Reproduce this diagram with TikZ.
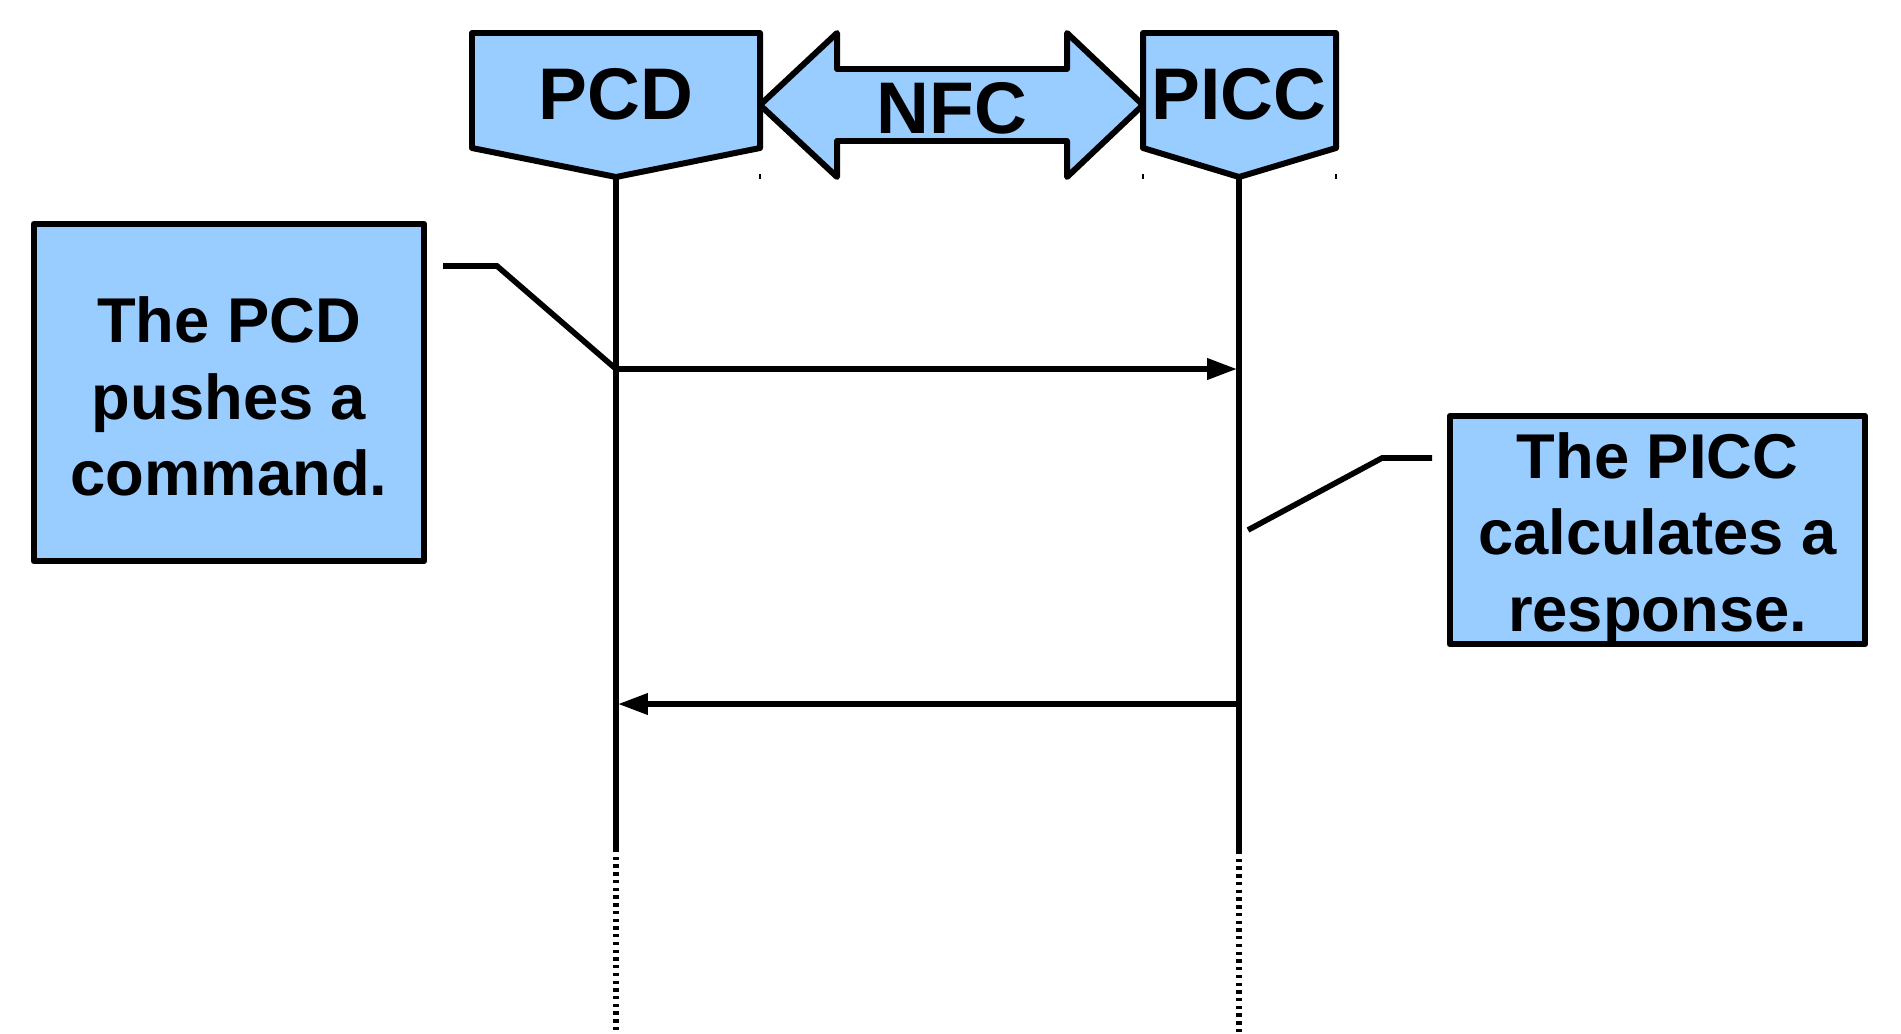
\documentclass[tikz,border=0pt]{standalone}
\usepackage{fontspec}
\setmainfont{Liberation Sans}
\usetikzlibrary{arrows.meta}
\definecolor{nfcblue}{HTML}{99CCFF}

\begin{document}
\begin{tikzpicture}[x=0.01cm,y=-0.01cm]
\tikzset{
    head/.style={draw, line width=1.7pt, fill=nfcblue, line join=round},
    head text/.style={font=\bfseries\fontsize{20.8}{24}\selectfont, inner sep=0pt},
    life line/.style={line width=1.6pt},
    dots line/.style={line width=1.6pt, dash pattern=on 0.95pt off 1.25pt},
    msg/.style={line width=1.6pt, -{Triangle[length=8.5pt,width=5.8pt]}},
    note/.style={draw, line width=1.8pt, fill=nfcblue, inner sep=0pt, line join=round},
    note text/.style={inner sep=0pt, align=center,
        font=\bfseries\fontsize{18}{21.7}\selectfont},
    note line/.style={line width=1.6pt}}
\def\ytop{33}
\def\yside{148}
\def\ytip{177}
\def\ysolid{849}

\useasboundingbox (0,0) rectangle (1901,1033);

% headers
\draw[head] (472,\ytop)--(760,\ytop)--(760,\yside)--(616,\ytip)--(472,\yside)--cycle;
\draw[head] (1143,\ytop)--(1336,\ytop)--(1336,\yside)--(1239,\ytip)--(1143,\yside)--cycle;
\draw[head] (760,105)--(837,\ytop)--(837,69)--(1067,69)--(1067,\ytop)--(1143,105)
    --(1067,\ytip)--(1067,141)--(837,141)--(837,\ytip)--cycle;
\node[head text] (pcd) at (616,94) {PCD};
\node[head text] (picc) at (1239,94) {PICC};
\node[head text] (nfc) at (952,108) {NFC};

\foreach \x in {760,1143,1336}{
    \draw[line width=0.5pt] (\x,174)--(\x,179);
}

% life lines
\path (616,\ytip)coordinate(PT) (616,\ysolid)coordinate(PM) (616,1033)coordinate(PB);
\path (1239,\ytip)coordinate(QT) (1239,851)coordinate(QM) (1239,1033)coordinate(QB);
\draw[life line] (PT)--(PM);
\draw[dots line] (PM)--(PB);
\draw[life line] (QT)--(QM);
\draw[dots line] (QM)--(QB);

% messages
\path (616,369)coordinate(CMD) (1237,369)coordinate(CMDIN);
\path (1239,704)coordinate(RSP) (618,704)coordinate(RSPIN);
\draw[msg] (CMD)--(CMDIN);
\draw[msg] (RSP)--(RSPIN);

% notes
\node[note, minimum width=3.9cm, minimum height=3.37cm] (push) at (229,392.5) {};
\node[note text] (pushtext) at (229,396.5) {The PCD\\pushes a\\command.};
\node[note, minimum width=4.15cm, minimum height=2.28cm] (calc) at (1657.5,530) {};
\node[note text] (calctext) at (1657.5,538.5) {The PICC\\calculates a\\response.};

\path (443,266)coordinate(PN) (1432,458)coordinate(CN) (1248,530)coordinate(CP);
\draw[note line] (PN)--++(54,0)--(CMD);
\draw[note line] (CN)--++(-50,0)--(CP);

\end{tikzpicture}
\end{document}
